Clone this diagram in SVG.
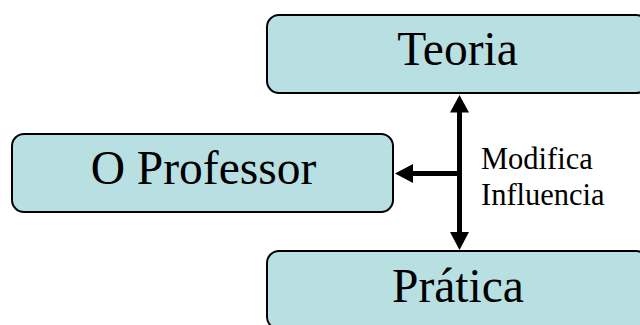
<svg xmlns="http://www.w3.org/2000/svg" width="640" height="325" viewBox="0 0 640 325">
  <style>
    .box { fill: #B8DFE2; stroke: #000; stroke-width: 2; }
    .big { font-family: "Liberation Serif", "Times New Roman", serif; font-size: 47.5px; fill: #000; text-anchor: middle; }
    .lbl { font-family: "Liberation Serif", "Times New Roman", serif; font-size: 30.5px; fill: #000; }
    .wire { stroke: #000; stroke-width: 5; fill: none; }
    .head { fill: #000; }
  </style>
  <rect x="0" y="0" width="640" height="325" fill="#fff"/>

  <g id="teoria">
    <rect class="box" x="267" y="15" width="381" height="78" rx="12" ry="12"/>
    <text class="big" x="457.5" y="64.5">Teoria</text>
  </g>

  <g id="professor">
    <rect class="box" x="12" y="134" width="381" height="78" rx="12" ry="12"/>
    <text class="big" x="203.5" y="183.5">O Professor</text>
  </g>

  <g id="pratica">
    <rect class="box" x="267" y="251" width="381" height="78" rx="12" ry="12"/>
    <text class="big" x="458" y="301.5">Prática</text>
  </g>

  <g id="connectors">
    <line class="wire" x1="459.5" y1="110" x2="459.5" y2="234"/>
    <line class="wire" x1="459.5" y1="173.5" x2="411" y2="173.5"/>
    <polygon class="head" points="459.5,95 450,112.5 469,112.5"/>
    <polygon class="head" points="459.5,250 450,232 469,232"/>
    <polygon class="head" points="395,173.5 413,164 413,183"/>
    <text class="lbl" x="481" y="168.5">Modifica</text>
    <text class="lbl" x="481" y="205">Influencia</text>
  </g>
</svg>
